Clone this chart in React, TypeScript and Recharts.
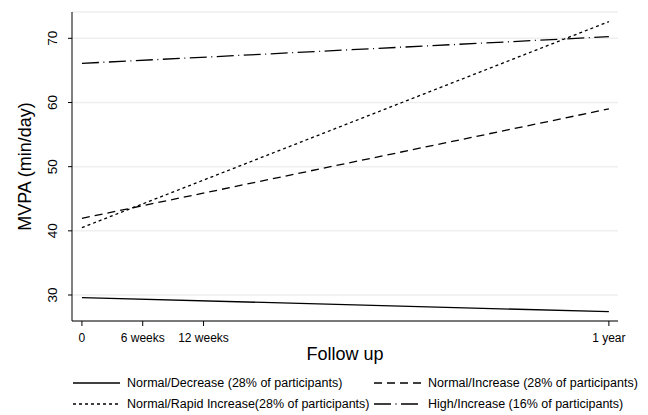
import { LineChart, Line, XAxis, YAxis, CartesianGrid } from 'recharts';

// follow-up time in weeks
const weeks = [0, 52];
const xTicks = [0, 6, 12, 52];
const xTickLabels = ['0', '6 weeks', '12 weeks', '1 year'];
const yTicks = [30, 40, 50, 60, 70];

const normalDecrease = [29.6, 27.4];
const normalIncrease = [41.95, 59.0];
const normalRapidIncrease = [40.5, 72.6];
const highIncrease = [66.1, 70.25];

const seriesNames = [
    'Normal/Decrease (28% of participants)',
    'Normal/Increase (28% of participants)',
    'Normal/Rapid Increase(28% of participants)',
    'High/Increase (16% of participants)',
];

const FONT = '"Liberation Sans", Arial, Helvetica, sans-serif';

const series = [
    { key: 'decrease', name: seriesNames[0], dash: undefined as string | undefined },
    { key: 'increase', name: seriesNames[1], dash: '8 5' },
    { key: 'rapid', name: seriesNames[2], dash: '3 3' },
    { key: 'high', name: seriesNames[3], dash: '17 4.5 1 4.5' },
];

const data = weeks.map((w, i) => ({
    week: w,
    decrease: normalDecrease[i],
    increase: normalIncrease[i],
    rapid: normalRapidIncrease[i],
    high: highIncrease[i],
}));

const YTick = ({ x, y, payload }: any) => {
    const cx = Number(x) - 13;
    return (
        <text
            x={cx}
            y={y}
            transform={`rotate(-90 ${cx} ${y})`}
            textAnchor="middle"
            dominantBaseline="central"
            fill="#000"
            fontSize={13.5}
            fontFamily={FONT}
        >
            {payload.value}
        </text>
    );
};

const LegendItem = ({ name, dash }: { name: string; dash?: string }) => (
    <div style={{ display: 'flex', alignItems: 'center', height: 14 }}>
        <svg width={47} height={14} style={{ marginRight: 7, flex: 'none' }}>
            <line x1={0} y1={7} x2={47} y2={7} stroke="#000" strokeWidth={1.3} strokeDasharray={dash} />
        </svg>
        <span style={{ fontSize: 12.5, fontFamily: FONT, color: '#000', whiteSpace: 'nowrap' }}>{name}</span>
    </div>
);

export default function App() {
    return (
        <div style={{ position: 'absolute', left: 0, top: 0, width: 648, height: 415, background: '#fff' }}>
            <LineChart width={648} height={415} data={data} margin={{ top: 12, right: 30, bottom: 54, left: 22 }}>
                <CartesianGrid vertical={false} stroke="#efefef" strokeWidth={1.5} />
                <XAxis
                    dataKey="week"
                    type="number"
                    domain={[-0.98, 52.9]}
                    ticks={xTicks}
                    tickFormatter={(v: number) => xTickLabels[xTicks.indexOf(v)] ?? ''}
                    height={40}
                    tickSize={5}
                    tickMargin={7}
                    axisLine={{ stroke: '#000', strokeWidth: 1 }}
                    tickLine={{ stroke: '#000' }}
                    tick={{ fill: '#000', fontSize: 12, fontFamily: FONT }}
                    label={{
                        value: 'Follow up',
                        position: 'insideBottom',
                        offset: 1,
                        style: { fontSize: 18, fontFamily: FONT, fill: '#000' },
                    }}
                />
                <YAxis
                    type="number"
                    domain={[25.95, 74.1]}
                    ticks={yTicks}
                    width={50}
                    tickSize={4}
                    tickMargin={2}
                    axisLine={{ stroke: '#000', strokeWidth: 1 }}
                    tickLine={{ stroke: '#000' }}
                    tick={YTick}
                    label={{
                        value: 'MVPA (min/day)',
                        angle: -90,
                        position: 'insideLeft',
                        offset: 3,
                        style: { fontSize: 18, fontFamily: FONT, fill: '#000', textAnchor: 'middle' },
                    }}
                />
                {series.map((s) => (
                    <Line
                        key={s.key}
                        dataKey={s.key}
                        name={s.name}
                        type="linear"
                        stroke="#000"
                        strokeWidth={1.3}
                        strokeDasharray={s.dash}
                        dot={false}
                        activeDot={false}
                        isAnimationActive={false}
                    />
                ))}
            </LineChart>
            <div
                style={{
                    position: 'absolute',
                    left: 73,
                    top: 376,
                    display: 'grid',
                    gridTemplateColumns: '301px auto',
                    rowGap: 6.5,
                }}
            >
                {series.map((s) => (
                    <LegendItem key={s.key} name={s.name} dash={s.dash} />
                ))}
            </div>
        </div>
    );
}
